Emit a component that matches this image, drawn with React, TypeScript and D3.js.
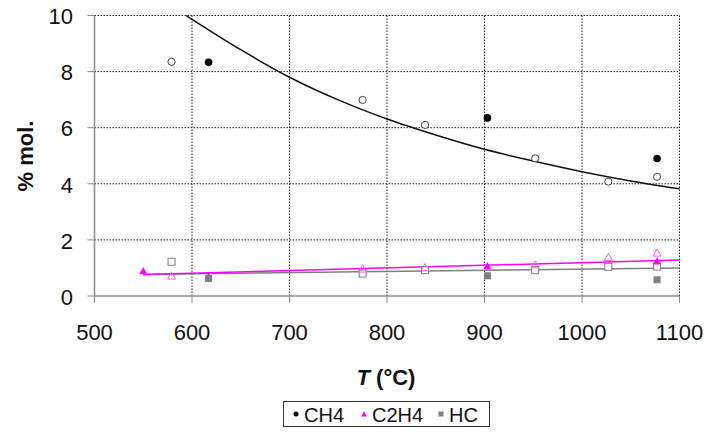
import React from "react";
import * as d3 from "d3";

// ---- data ----
const xTicks = [500, 600, 700, 800, 900, 1000, 1100];
const yTicks = [0, 2, 4, 6, 8, 10];

const ch4T = [617, 903, 1077];
const ch4Val = [8.33, 6.35, 4.9];
const ch4OpenT = [579, 775, 839, 952, 1027, 1077];
const ch4OpenVal = [8.35, 6.99, 6.1, 4.91, 4.08, 4.25];

const c2h4T = [550, 617, 903, 1077];
const c2h4Val = [0.87, 0.68, 1.05, 1.22];
const c2h4OpenT = [579, 775, 839, 952, 1027, 1077];
const c2h4OpenVal = [0.7, 0.95, 1.0, 1.1, 1.36, 1.52];

const hcT = [617, 903, 1077];
const hcVal = [0.62, 0.72, 0.58];
const hcOpenT = [579, 775, 839, 952, 1027, 1077];
const hcOpenVal = [1.22, 0.8, 0.92, 0.92, 1.04, 1.05];

// trend lines
const ch4TrendT = [594, 650, 700, 750, 800, 850, 900, 950, 1000, 1050, 1100];
const ch4TrendVal = [10.0, 8.78, 7.8, 6.99, 6.31, 5.74, 5.23, 4.81, 4.43, 4.1, 3.82];
const c2h4TrendT = [550, 1100];
const c2h4TrendVal = [0.77, 1.28];
const hcTrendT = [550, 1100];
const hcTrendVal = [0.77, 1.0];

const legendItems = ["CH4", "C2H4", "HC"];

const MAGENTA = "#ff00ff";
const GRAY = "#7f7f7f";

export default function App() {
  const W = 725, H = 437;
  const x = d3.scaleLinear().domain([500, 1100]).range([94.5, 679.5]);
  const y = d3.scaleLinear().domain([0, 10]).range([296, 15.5]);
  const line = (ts: number[], vs: number[]) =>
    d3.line<number>().x((_, i) => x(ts[i])).y((v) => y(v)).curve(d3.curveMonotoneX)(vs) || "";

  const tri = (cx: number, cy: number, s: number) =>
    `M${cx},${cy - s}L${cx + s * 0.9},${cy + s * 0.6}L${cx - s * 0.9},${cy + s * 0.6}Z`;

  const font = "Arial, 'Liberation Sans', sans-serif";

  return (
    <svg width={W} height={H} style={{ position: "absolute", left: 0, top: 0, background: "#fff" }}>
      <rect width={W} height={H} fill="#fff" />
      {/* grid */}
      {yTicks.filter((t) => t > 0).map((t) => (
        <line key={"gy" + t} x1={x(500)} x2={x(1100)} y1={y(t)} y2={y(t)} stroke="#222" strokeWidth={1} strokeDasharray="1.5,1.5" />
      ))}
      {xTicks.filter((t) => t > 500).map((t) => (
        <line key={"gx" + t} x1={x(t)} x2={x(t)} y1={y(0)} y2={y(10)} stroke="#222" strokeWidth={1} strokeDasharray="1.5,1.5" />
      ))}
      {/* axes */}
      <line x1={x(500)} x2={x(500)} y1={y(0)} y2={y(10)} stroke="#8c8c8c" strokeWidth={1.5} />
      <line x1={x(500)} x2={x(1100)} y1={y(0)} y2={y(0)} stroke="#8c8c8c" strokeWidth={1.5} />
      {yTicks.map((t) => (
        <g key={"yt" + t}>
          <line x1={x(500) - 7} x2={x(500)} y1={y(t)} y2={y(t)} stroke="#8c8c8c" strokeWidth={1} />
          <text x={73} y={y(t) + 1} dy="0.35em" textAnchor="end" fontFamily={font} fontSize={22} fill="#111">{t}</text>
        </g>
      ))}
      {xTicks.map((t) => (
        <g key={"xt" + t}>
          <line x1={x(t)} x2={x(t)} y1={y(0)} y2={y(0) + 7} stroke="#8c8c8c" strokeWidth={1} />
          <text x={x(t)} y={332} dy="0.35em" textAnchor="middle" fontFamily={font} fontSize={22} fill="#111">{t}</text>
        </g>
      ))}
      {/* axis titles */}
      <text x={386} y={377} dy="0.35em" textAnchor="middle" fontFamily={font} fontSize={22} fontWeight="bold" fill="#111">
        <tspan fontStyle="italic">T</tspan> (°C)
      </text>
      <text transform="translate(25,156) rotate(-90)" dy="0.35em" textAnchor="middle" fontFamily={font} fontSize={22} fontWeight="bold" fill="#111">
        % mol.
      </text>

      {/* trend lines */}
      <path d={line(hcTrendT, hcTrendVal)} fill="none" stroke={GRAY} strokeWidth={1.5} />
      <path d={line(c2h4TrendT, c2h4TrendVal)} fill="none" stroke={MAGENTA} strokeWidth={1.5} />
      <path d={line(ch4TrendT, ch4TrendVal)} fill="none" stroke="#111" strokeWidth={1.5} />

      {/* open markers */}
      {hcOpenT.map((t, i) => (
        <rect key={"ho" + i} x={x(t) - 3.5} y={y(hcOpenVal[i]) - 3.5} width={7} height={7} fill="#fff" stroke={GRAY} strokeWidth={1} />
      ))}
      {c2h4OpenT.map((t, i) => (
        <path key={"co" + i} d={tri(x(t), y(c2h4OpenVal[i]), 4.5)} fill="none" stroke="#ff55ff" strokeWidth={1} />
      ))}
      {ch4OpenT.map((t, i) => (
        <circle key={"mo" + i} cx={x(t)} cy={y(ch4OpenVal[i])} r={3.6} fill="#fff" stroke="#444" strokeWidth={1} />
      ))}

      {/* filled markers */}
      {c2h4T.map((t, i) => (
        <path key={"cf" + i} d={tri(x(t), y(c2h4Val[i]), 4.5)} fill={MAGENTA} />
      ))}
      {hcT.map((t, i) => (
        <rect key={"hf" + i} x={x(t) - 3.5} y={y(hcVal[i]) - 3.5} width={7} height={7} fill={GRAY} />
      ))}
      {ch4T.map((t, i) => (
        <circle key={"mf" + i} cx={x(t)} cy={y(ch4Val[i])} r={3.8} fill="#000" />
      ))}

      {/* legend */}
      <rect x={283.5} y={401.5} width={206} height={25} fill="#fff" stroke="#333" strokeWidth={1} />
      {legendItems.map((name, i) => {
        const lx = [296, 364, 441][i];
        const cy = 414;
        return (
          <g key={name}>
            {i === 0 && <circle cx={lx} cy={cy} r={2.5} fill="#000" />}
            {i === 1 && <path d={tri(lx, cy + 0.5, 3.2)} fill={MAGENTA} />}
            {i === 2 && <rect x={lx - 2.5} y={cy - 2.5} width={5} height={5} fill={GRAY} />}
            <text x={lx + 8} y={cy + 0.5} dy="0.35em" fontFamily={font} fontSize={20} fill="#111">{name}</text>
          </g>
        );
      })}
    </svg>
  );
}
